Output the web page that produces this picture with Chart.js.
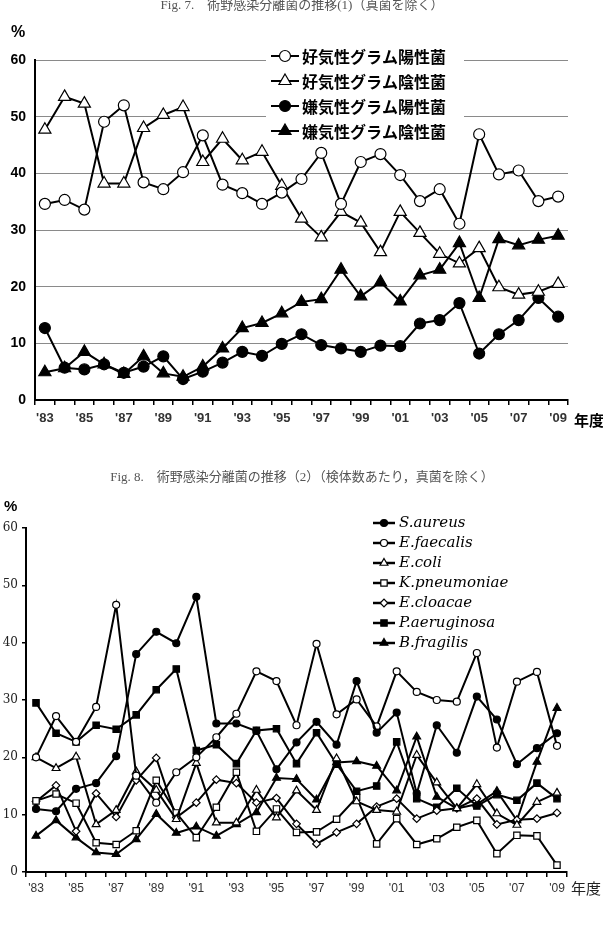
<!DOCTYPE html>
<html>
<head>
<meta charset="utf-8">
<script src="https://cdn.jsdelivr.net/npm/chart.js@4.4.0/dist/chart.umd.min.js"></script>
<style>
  html, body { margin: 0; padding: 0; background: #fff; }
  body { width: 603px; height: 927px; position: relative; overflow: hidden; }
  canvas { position: absolute; left: 0; }
  #fig7 { top: 0; }
  #fig8 { top: 440px; }
</style>
</head>
<body>
<canvas id="fig7" width="603" height="440"></canvas>
<canvas id="fig8" width="603" height="487"></canvas>
<script>
// 年度
const years = ["'83","'84","'85","'86","'87","'88","'89","'90","'91","'92","'93","'94","'95","'96",
               "'97","'98","'99","'00","'01","'02","'03","'04","'05","'06","'07","'08","'09"];

// Fig. 7
const aerobicGP   = [34.6,35.3,33.6,49.1,52.0,38.4,37.2,40.2,46.7,38.0,36.5,34.6,36.6,39.0,43.6,34.6,42.0,43.4,39.7,35.1,37.2,31.1,46.9,39.8,40.5,35.1,35.9];
const aerobicGN   = [47.7,53.5,52.3,38.2,38.2,48.0,50.3,51.7,42.0,46.1,42.3,43.8,37.8,32.0,28.7,33.2,31.3,26.1,33.2,29.5,25.8,24.1,26.8,19.9,18.6,19.1,20.5];
const anaerobicGP = [12.7,5.7,5.4,6.3,4.8,5.9,7.7,3.7,5.0,6.6,8.5,7.8,9.9,11.6,9.7,9.1,8.5,9.6,9.5,13.5,14.1,17.1,8.2,11.6,14.1,18.0,14.7];
const anaerobicGN = [4.9,5.6,8.5,6.3,4.6,7.7,4.7,4.1,5.9,9.1,12.7,13.6,15.3,17.3,17.8,23.0,18.3,20.8,17.4,22.0,23.0,27.7,18.0,28.4,27.3,28.3,29.0];
const fig7Names = ['好気性グラム陽性菌','好気性グラム陰性菌','嫌気性グラム陽性菌','嫌気性グラム陰性菌'];

// Fig. 8
const sAureus     = [11.0,10.6,14.5,15.5,20.2,38.0,41.9,39.9,48.0,25.9,25.9,24.6,17.9,22.6,26.2,22.2,33.3,24.3,27.8,13.7,25.6,20.8,30.6,26.6,18.8,21.6,24.2];
const eFaecalis   = [20.0,27.2,22.7,28.8,46.6,16.8,12.1,17.4,20.0,23.5,27.6,35.0,33.3,25.6,39.8,27.5,30.1,25.4,35.0,31.4,30.0,29.7,38.2,21.7,33.2,34.9,22.0];
const eColi       = [20.0,18.1,20.1,8.3,10.8,17.5,14.3,9.2,19.0,8.6,8.6,14.3,9.5,14.2,10.8,19.8,12.3,10.8,10.5,20.4,15.6,11.1,15.3,10.2,8.2,12.2,13.8];
const kPneumoniae = [12.4,13.6,12.0,5.1,4.8,7.2,16.0,10.3,6.0,11.3,17.4,7.1,11.0,6.9,7.0,9.2,13.0,4.9,9.3,4.8,5.8,7.8,9.0,3.2,6.4,6.3,1.2];
const eCloacae    = [12.3,15.1,7.1,13.7,9.6,16.0,19.9,9.5,12.1,16.1,15.5,12.1,12.9,8.4,4.9,6.9,8.4,11.4,12.8,9.3,10.7,11.1,12.8,8.3,9.1,9.3,10.3];
const pAeruginosa = [29.5,24.2,22.7,25.6,24.9,27.4,31.8,35.4,21.2,22.2,18.9,24.7,25.0,18.9,24.3,18.8,14.1,15.0,22.7,12.8,11.3,14.6,11.5,13.5,12.5,15.5,12.8];
const bFragilis   = [6.3,9.0,6.0,3.4,3.1,5.7,10.1,6.8,7.9,6.3,8.3,10.4,16.4,16.2,12.6,19.1,19.3,18.5,14.2,23.6,13.1,11.1,11.8,14.1,9.0,19.2,28.6];
const fig8Names = ['S.aureus','E.faecalis','E.coli','K.pneumoniae','E.cloacae','P.aeruginosa','B.fragilis'];

const JP = '"Noto Sans CJK JP", "Liberation Sans", sans-serif';

// vẽ marker cho legend
function marker(ctx, style, r, fill, x, y, bw) {
  ctx.save();
  ctx.fillStyle = fill;
  ctx.strokeStyle = '#000';
  ctx.lineWidth = bw;
  Chart.helpers.drawPoint(ctx, { pointStyle: style, radius: r, rotation: 0, borderWidth: bw }, x, y);
  ctx.restore();
}

function ds(label, data, style, fill, r, lw) {
  return {
    label, data,
    borderColor: '#000', borderWidth: lw,
    pointStyle: style, pointRadius: r, pointBackgroundColor: fill,
    pointBorderColor: '#000', pointBorderWidth: 1.2,
    tension: 0, fill: false
  };
}

const fig7Styles = [['circle', 5.5, '#fff'], ['triangle', 7, '#fff'], ['circle', 5.5, '#000'], ['triangle', 7, '#000']];

const fig7Extras = {
  id: 'fig7Extras',
  beforeDatasetsDraw(chart) {
    const ctx = chart.ctx;
    ctx.save();
    ctx.fillStyle = '#fff';
    ctx.fillRect(266, 44, 198, 98);
    fig7Names.forEach((name, i) => {
      const y = 56 + i * 25;
      ctx.strokeStyle = '#000';
      ctx.lineWidth = 2;
      ctx.beginPath(); ctx.moveTo(271, y); ctx.lineTo(299, y); ctx.stroke();
      const s = fig7Styles[i];
      marker(ctx, s[0], s[1], s[2], 285, y, 1.2);
      ctx.fillStyle = '#000';
      ctx.font = 'bold 16px ' + JP;
      ctx.textAlign = 'left';
      ctx.textBaseline = 'middle';
      ctx.fillText(name, 302, y + 1);
    });
    ctx.restore();
  },
  afterDraw(chart) {
    const ctx = chart.ctx;
    ctx.save();
    ctx.fillStyle = '#555';
    ctx.font = '13px "Liberation Serif", ' + JP;
    ctx.textAlign = 'center';
    ctx.textBaseline = 'alphabetic';
    ctx.fillText('Fig. 7.　術野感染分離菌の推移(1)（真菌を除く）', 302, 9);
    ctx.fillStyle = '#000';
    ctx.font = 'bold 16px "Liberation Sans", Arial, sans-serif';
    ctx.textAlign = 'left';
    ctx.textBaseline = 'middle';
    ctx.fillText('%', 11, 33);
    ctx.font = 'bold 15px ' + JP;
    ctx.fillText('年度', 574, 420);
    ctx.restore();
  }
};

new Chart(document.getElementById('fig7'), {
  type: 'line',
  data: {
    labels: years,
    datasets: [
      ds(fig7Names[0], aerobicGP, 'circle', '#fff', 5.5, 2),
      ds(fig7Names[1], aerobicGN, 'triangle', '#fff', 7, 2),
      ds(fig7Names[2], anaerobicGP, 'circle', '#000', 5.5, 2),
      ds(fig7Names[3], anaerobicGN, 'triangle', '#000', 7, 2)
    ]
  },
  options: {
    responsive: false,
    animation: false,
    layout: { padding: { top: 60, right: 35, left: 0, bottom: 0 } },
    plugins: { legend: { display: false }, tooltip: { enabled: false } },
    scales: {
      x: {
        type: 'category',
        offset: true,
        afterFit(s) { s.height = 40; },
        grid: { offset: true, drawOnChartArea: false, drawTicks: true, tickLength: 5, color: '#000', lineWidth: 1.5 },
        border: { display: true, color: '#000', width: 2 },
        ticks: {
          autoSkip: false, maxRotation: 0, padding: 6,
          color: '#333',
          font: { family: '"Liberation Sans", Arial, sans-serif', size: 13, weight: 'bold' },
          callback: (v, i) => (i % 2 === 0 ? years[i] : '')
        }
      },
      y: {
        min: 0, max: 60,
        afterFit(s) { s.width = 35; },
        grid: { drawTicks: false, color: c => (c.tick && c.tick.value === 0 ? 'rgba(0,0,0,0)' : '#8a8a8a'), lineWidth: 1 },
        border: { display: true, color: '#000', width: 2 },
        ticks: {
          stepSize: 10, padding: 9, color: '#000',
          font: { family: '"Liberation Sans", Arial, sans-serif', size: 14, weight: 'bold' }
        }
      }
    }
  },
  plugins: [fig7Extras]
});

const fig8Styles = [['circle', 3.5, '#000'], ['circle', 3.5, '#fff'], ['triangle', 4.5, '#fff'], ['rect', 4.5, '#fff'],
                    ['rectRot', 3.8, '#fff'], ['rect', 4.5, '#000'], ['triangle', 4.5, '#000']];
const fig8Data = [sAureus, eFaecalis, eColi, kPneumoniae, eCloacae, pAeruginosa, bFragilis];

const fig8Extras = {
  id: 'fig8Extras',
  afterDraw(chart) {
    const ctx = chart.ctx;
    ctx.save();
    fig8Names.forEach((name, i) => {
      const y = 83 + i * 20;
      ctx.strokeStyle = '#000';
      ctx.lineWidth = 2.5;
      ctx.beginPath(); ctx.moveTo(373, y); ctx.lineTo(395, y); ctx.stroke();
      const s = fig8Styles[i];
      marker(ctx, s[0], s[1], s[2], 384, y, 1.2);
      ctx.fillStyle = '#000';
      ctx.font = 'italic 15px "DejaVu Serif", serif';
      ctx.textAlign = 'left';
      ctx.textBaseline = 'middle';
      ctx.fillText(name, 399, y);
    });
    ctx.fillStyle = '#555';
    ctx.font = '13px "Liberation Serif", ' + JP;
    ctx.textAlign = 'center';
    ctx.textBaseline = 'middle';
    ctx.fillText('Fig. 8.　術野感染分離菌の推移（2）（検体数あたり，真菌を除く）', 302, 38);
    ctx.fillStyle = '#000';
    ctx.font = 'bold 15px "Liberation Sans", Arial, sans-serif';
    ctx.textAlign = 'left';
    ctx.fillText('%', 4, 67);
    ctx.fillStyle = '#222';
    ctx.font = '15px ' + JP;
    ctx.fillText('年度', 571, 448);
    ctx.restore();
  }
};

new Chart(document.getElementById('fig8'), {
  type: 'line',
  data: {
    labels: years,
    datasets: fig8Names.map((n, i) => ds(n, fig8Data[i], fig8Styles[i][0], fig8Styles[i][2], fig8Styles[i][1], 2))
  },
  options: {
    responsive: false,
    animation: false,
    layout: { padding: { top: 88, right: 36, left: 0, bottom: 0 } },
    plugins: { legend: { display: false }, tooltip: { enabled: false } },
    scales: {
      x: {
        type: 'category',
        offset: true,
        afterFit(s) { s.height = 55; },
        grid: { offset: true, drawOnChartArea: false, drawTicks: true, tickLength: 5, color: '#000', lineWidth: 1.5 },
        border: { display: true, color: '#000', width: 2 },
        ticks: {
          autoSkip: false, maxRotation: 0, padding: 4,
          color: '#333',
          font: { family: '"Liberation Sans", Arial, sans-serif', size: 12 },
          callback: (v, i) => (i % 2 === 0 ? years[i] : '')
        }
      },
      y: {
        min: 0, max: 60,
        afterFit(s) { s.width = 26; },
        grid: { drawOnChartArea: false, drawTicks: true, tickLength: 4, color: '#000', lineWidth: 1.5 },
        border: { display: true, color: '#000', width: 2 },
        ticks: {
          stepSize: 10, padding: 4, color: '#222',
          font: { family: '"DejaVu Serif", serif', size: 12 }
        }
      }
    }
  },
  plugins: [fig8Extras]
});
</script>
</body>
</html>
